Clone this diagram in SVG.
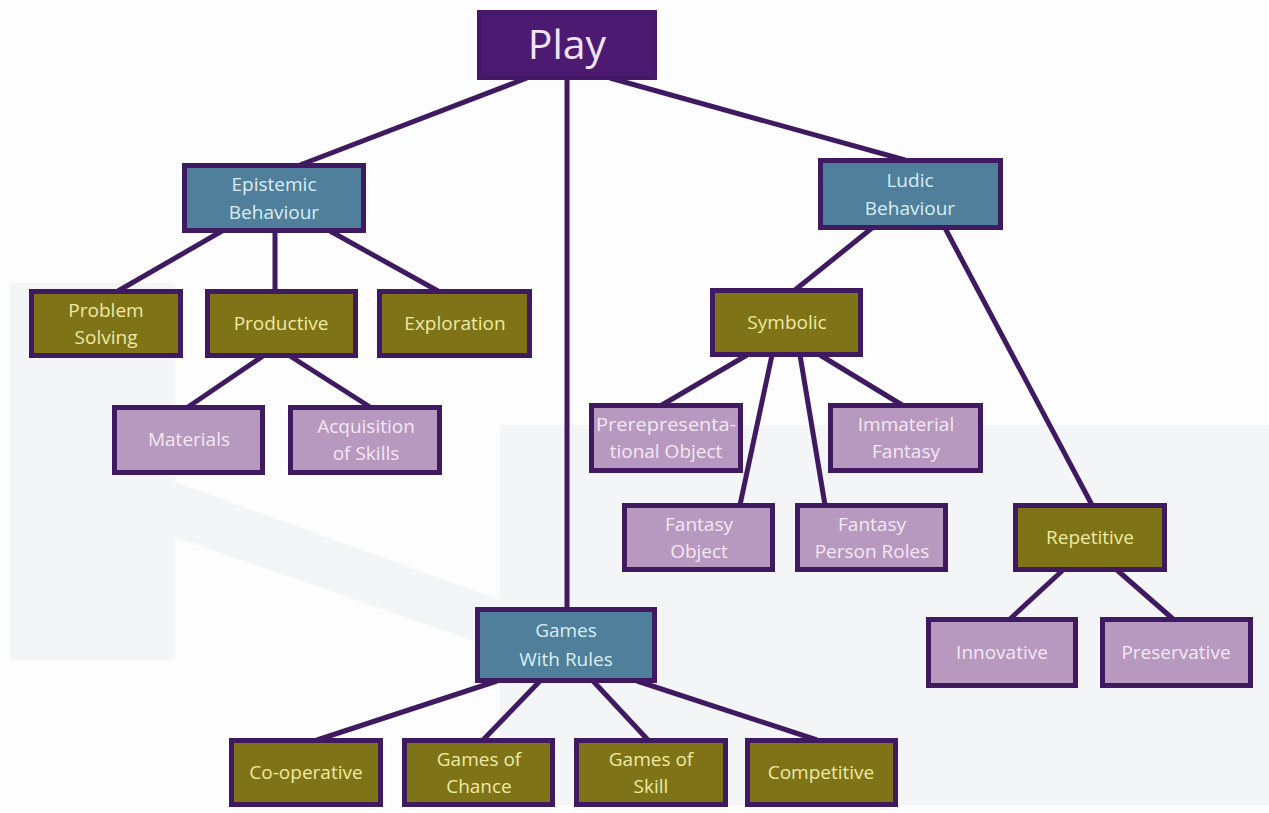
<svg xmlns="http://www.w3.org/2000/svg" width="1269" height="813" viewBox="0 0 1269 813">
<style>
.box{stroke:#3f1a60;stroke-width:5}
.teal{fill:#4f7f9b}
.olive{fill:#7e7317}
.mauve{fill:#b798bf}
.t{font-family:"Open Sans","Noto Sans",sans-serif;font-size:19px;text-anchor:middle}
.tt{fill:#d9eef4}
.to{fill:#efeaa2}
.tm{fill:#f4e8f4}
.con line{stroke:#3f1a60;stroke-width:5;stroke-linecap:butt}
</style>
<rect width="1269" height="813" fill="#fdfdfd"/>
<g id="background" fill="#f4f5f6">
<rect x="10" y="283" width="165" height="377"/>
<polygon points="175,482 500,600 500,650 175,537"/>
<rect x="500" y="425" width="769" height="380"/>
</g>
<g class="con" id="connectors">
<line x1="527" y1="78" x2="300" y2="165"/>
<line x1="610" y1="78" x2="905" y2="160"/>
<line x1="567" y1="78" x2="567" y2="610"/>
<line x1="222" y1="231" x2="118" y2="291"/>
<line x1="275" y1="231" x2="275" y2="291"/>
<line x1="330" y1="231" x2="438" y2="291"/>
<line x1="263" y1="356" x2="188" y2="407"/>
<line x1="290" y1="356" x2="370" y2="407"/>
<line x1="872" y1="228" x2="795" y2="290"/>
<line x1="945" y1="228" x2="1092" y2="505"/>
<line x1="747" y1="355" x2="662" y2="405"/>
<line x1="772" y1="355" x2="740" y2="505"/>
<line x1="800" y1="355" x2="825" y2="505"/>
<line x1="820" y1="355" x2="902" y2="405"/>
<line x1="1063" y1="570" x2="1010" y2="619"/>
<line x1="1117" y1="570" x2="1173" y2="619"/>
<line x1="497" y1="681" x2="317" y2="740"/>
<line x1="540" y1="681" x2="483" y2="740"/>
<line x1="593" y1="681" x2="648" y2="740"/>
<line x1="637" y1="681" x2="817" y2="740"/>
</g>
<g id="play">
<rect x="479.5" y="12.5" width="175" height="65" fill="#4d1a72" stroke="#461869" stroke-width="5"/>
<text x="567" y="59" font-family="'Open Sans','Noto Sans',sans-serif" font-size="41" text-anchor="middle" fill="#f1e4f4">Play</text>
</g>
<g id="epistemic">
<rect class="box teal" x="184.5" y="165.5" width="179" height="65"/>
<text class="t tt" x="274" y="191">Epistemic</text>
<text class="t tt" x="274" y="219">Behaviour</text>
</g>
<g id="ludic">
<rect class="box teal" x="820.5" y="160.5" width="180" height="67"/>
<text class="t tt" x="910" y="187">Ludic</text>
<text class="t tt" x="910" y="215">Behaviour</text>
</g>
<g id="problem-solving">
<rect class="box olive" x="31.5" y="291.5" width="149" height="64"/>
<text class="t to" x="106" y="317">Problem</text>
<text class="t to" x="106" y="344">Solving</text>
</g>
<g id="productive">
<rect class="box olive" x="207.5" y="291.5" width="148" height="64"/>
<text class="t to" x="281" y="330">Productive</text>
</g>
<g id="exploration">
<rect class="box olive" x="379.5" y="291.5" width="150" height="64"/>
<text class="t to" x="455" y="330">Exploration</text>
</g>
<g id="materials">
<rect class="box mauve" x="114.5" y="407.5" width="148" height="65"/>
<text class="t tm" x="189" y="446">Materials</text>
</g>
<g id="acquisition">
<rect class="box mauve" x="290.5" y="407.5" width="149" height="65"/>
<text class="t tm" x="366" y="433">Acquisition</text>
<text class="t tm" x="366" y="460">of Skills</text>
</g>
<g id="symbolic">
<rect class="box olive" x="712.5" y="290.5" width="148" height="64"/>
<text class="t to" x="787" y="329">Symbolic</text>
</g>
<g id="prerepresentational">
<rect class="box mauve" x="591.5" y="405.5" width="149" height="65"/>
<text class="t tm" x="666" y="431" textLength="140" lengthAdjust="spacingAndGlyphs">Prerepresenta-</text>
<text class="t tm" x="666" y="458">tional Object</text>
</g>
<g id="immaterial">
<rect class="box mauve" x="830.5" y="405.5" width="150" height="65"/>
<text class="t tm" x="906" y="431">Immaterial</text>
<text class="t tm" x="906" y="458">Fantasy</text>
</g>
<g id="fantasy-object">
<rect class="box mauve" x="624.5" y="505.5" width="148" height="64"/>
<text class="t tm" x="699" y="531">Fantasy</text>
<text class="t tm" x="699" y="558">Object</text>
</g>
<g id="fantasy-person">
<rect class="box mauve" x="797.5" y="505.5" width="148" height="64"/>
<text class="t tm" x="872" y="531">Fantasy</text>
<text class="t tm" x="872" y="558">Person Roles</text>
</g>
<g id="repetitive">
<rect class="box olive" x="1015.5" y="505.5" width="149" height="64"/>
<text class="t to" x="1090" y="544">Repetitive</text>
</g>
<g id="innovative">
<rect class="box mauve" x="928.5" y="619.5" width="147" height="66"/>
<text class="t tm" x="1002" y="659">Innovative</text>
</g>
<g id="preservative">
<rect class="box mauve" x="1102.5" y="619.5" width="148" height="66"/>
<text class="t tm" x="1176" y="659">Preservative</text>
</g>
<g id="games-with-rules">
<rect class="box teal" x="477.5" y="609.5" width="177" height="71"/>
<text class="t tt" x="566" y="637">Games</text>
<text class="t tt" x="566" y="666">With Rules</text>
</g>
<g id="co-operative">
<rect class="box olive" x="231.5" y="740.5" width="149" height="64"/>
<text class="t to" x="306" y="779">Co-operative</text>
</g>
<g id="games-of-chance">
<rect class="box olive" x="404.5" y="740.5" width="148" height="64"/>
<text class="t to" x="479" y="766">Games of</text>
<text class="t to" x="479" y="793">Chance</text>
</g>
<g id="games-of-skill">
<rect class="box olive" x="576.5" y="740.5" width="149" height="64"/>
<text class="t to" x="651" y="766">Games of</text>
<text class="t to" x="651" y="793">Skill</text>
</g>
<g id="competitive">
<rect class="box olive" x="747.5" y="740.5" width="148" height="64"/>
<text class="t to" x="821" y="779">Competitive</text>
</g>
</svg>
